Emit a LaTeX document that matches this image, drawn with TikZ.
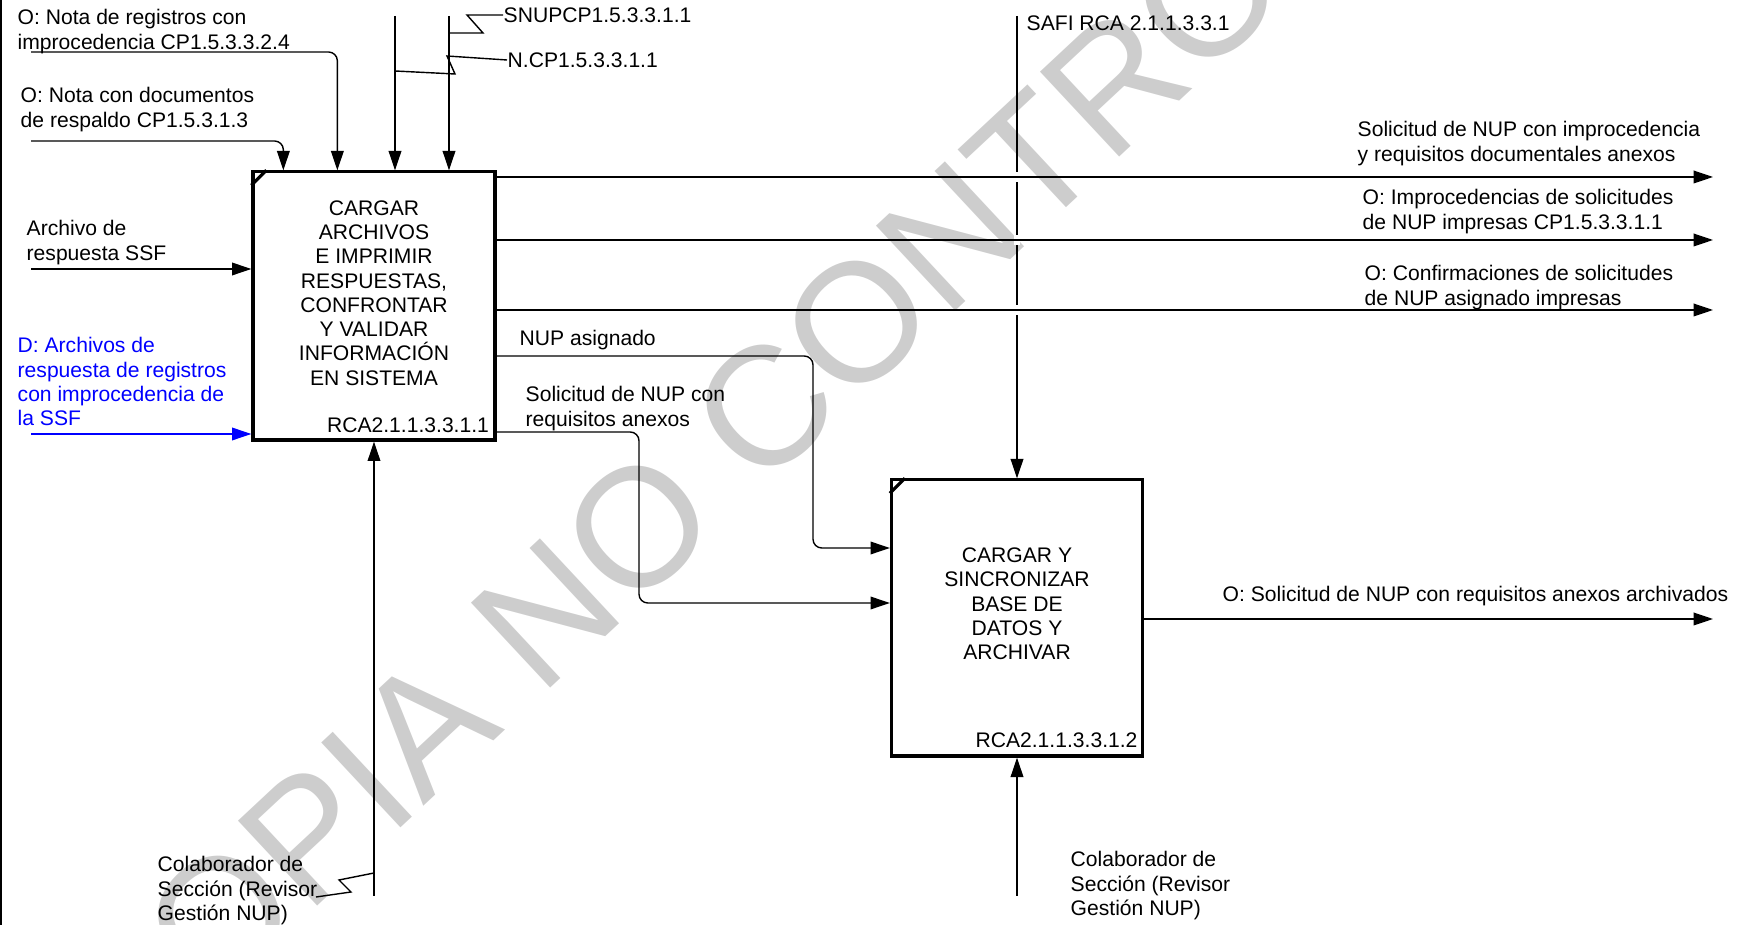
\documentclass[tikz,border=0pt]{standalone}
\usepackage{fontspec}
\setmainfont{Liberation Sans}
\usepackage{xcolor}
\usepackage{tikz}
\usetikzlibrary{arrows.meta, positioning, calc}
\definecolor{AzulDato}  {RGB}{0,  0,  255}
\definecolor{GrisMarca} {RGB}{205,205,205}

\begin{document}
\begin{tikzpicture}[x=0.01cm, y=-0.01cm, font=\fontsize{6}{6.9}\selectfont,
    flecha/.style={draw, line width=0.4pt, -{Triangle[length=5.5pt,width=3.6pt]}},
    linea/.style={draw, line width=0.4pt},
    caja/.style={draw, line width=0.9pt, rectangle, inner sep=0pt},
    etiq/.style={anchor=north west, align=left, inner sep=0pt},
    texcaja/.style={align=center, inner sep=0pt}]
      \useasboundingbox (0,0) rectangle (1739,925);
      \clip (0,0) rectangle (1739,925);
      % marca de agua
      \node[GrisMarca, rotate=43, font=\fontsize{48}{50}\selectfont] (marca) at (830,348) {COPIA NO CONTROLADA};
      \draw[line width=0.6pt] (1,0) -- (1,925);

      % cajas
      \node[caja, minimum width=2.42cm, minimum height=2.68cm] (c1) at (374,306) {};
      \node[caja, minimum width=2.51cm, minimum height=2.76cm] (c2) at (1017,618) {};
      \foreach \c in {c1,c2}{
        \draw[line width=0.9pt] ($(\c.north west)+(0,15)$) -- ($(\c.north west)+(15,0)$);
      }
      \node[texcaja] (t1) at ($(c1.center)+(0,-13)$)
        {CARGAR\\ARCHIVOS\\E IMPRIMIR\\RESPUESTAS,\\CONFRONTAR\\Y VALIDAR\\INFORMACIÓN\\EN SISTEMA};
      \node[anchor=south east, inner sep=0pt] (n1) at ($(c1.south east)+(-7,-8)$) {RCA2.1.1.3.3.1.1};
      \node[texcaja] (t2) at ($(c2.center)+(0,-14)$)
        {CARGAR Y\\SINCRONIZAR\\BASE DE\\DATOS Y\\ARCHIVAR};
      \node[anchor=south east, inner sep=0pt] (n2) at ($(c2.south east)+(-6,-9)$) {RCA2.1.1.3.3.1.2};

      % extremos libres
      \coordinate (e1) at (31,141);
      \coordinate (e2) at (31,52);
      \coordinate (e3) at (395,16);
      \coordinate (e4) at (449,16);
      \coordinate (e5) at (31,269);
      \coordinate (e6) at (31,434);
      \coordinate (e7) at (1017,16);
      \coordinate (e8) at (374,896);
      \coordinate (e9) at (1017,896);
      \coordinate (s1) at (1713,177);
      \coordinate (s2) at (1713,240);
      \coordinate (s3) at (1713,310);
      \coordinate (s4) at (1713,619);
      \coordinate (q1) at (813,450);
      \coordinate (q2) at (639,520);

      % entradas y controles de la caja 1
      \draw[flecha, rounded corners=2.5pt] (e1) -| ($(c1.north west)+(32,0)$);
      \draw[flecha, rounded corners=2.5pt] (e2) -| ($(c1.north west)+(86,0)$);
      \draw[flecha] (e3) -- (e3 |- c1.north);
      \draw[flecha] (e4) -- (e4 |- c1.north);
      \draw[flecha] (e5) -- (e5 -| c1.west);
      \draw[flecha, AzulDato] (e6) -- (e6 -| c1.west);
      \draw[flecha] (e8) -- (c1.south);

      % caja 2
      \draw[flecha] (e7) -- (c2.north);
      \draw[flecha] (e9) -- (c2.south);
      \foreach \s in {s1,s2,s3}{
        \fill[white] ($(e7 |- \s)+(-3,-5)$) rectangle ($(e7 |- \s)+(3,5)$);
      }

      % salidas
      \foreach \s in {s1,s2,s3}{
        \draw[flecha] (\s -| c1.east) -- (\s);
      }
      \draw[flecha] (s4 -| c2.east) -- (s4);
      \draw[flecha, rounded corners=2.5pt] ($(c1.east)+(0,50)$) -| (q1) |- ($(c2.west)+(0,-70)$);
      \draw[flecha, rounded corners=2.5pt] ($(c1.east)+(0,126)$) -| (q2) |- ($(c2.west)+(0,-15)$);

      % etiquetas
      \node[etiq] (l1) at (17,9) {O: Nota de registros con\\improcedencia CP1.5.3.3.2.4};
      \node[etiq] (l2) at (20,87) {O: Nota con documentos\\de respaldo CP1.5.3.1.3};
      \node[etiq] (l3) at (26,220) {Archivo de\\respuesta SSF};
      \node[etiq, AzulDato] (l4) at (17,337) {D: Archivos de\\respuesta de registros\\con improcedencia de\\la SSF};
      \node[anchor=west, inner sep=0pt] (l5) at (503,15) {SNUPCP1.5.3.3.1.1};
      \node[anchor=west, inner sep=0pt] (l6) at (507,60) {N.CP1.5.3.3.1.1};
      \node[etiq] (l7) at (1026,15) {SAFI RCA 2.1.1.3.3.1};
      \node[etiq] (l8) at (1357,121) {Solicitud de NUP con improcedencia\\y requisitos documentales anexos};
      \node[etiq] (l9) at (1362,189) {O: Improcedencias de solicitudes\\de NUP impresas CP1.5.3.3.1.1};
      \node[etiq] (l10) at (1364,265) {O: Confirmaciones de solicitudes\\de NUP asignado impresas};
      \node[etiq] (l11) at (519,330) {NUP asignado};
      \node[etiq] (l12) at (525,386) {Solicitud de NUP con\\requisitos anexos};
      \node[etiq] (l13) at (1222,586) {O: Solicitud de NUP con requisitos anexos archivados};
      \node[etiq] (l14) at (157,856) {Colaborador de\\Sección (Revisor\\Gestión NUP)};
      \node[etiq] (l15) at (1070,851) {Colaborador de\\Sección (Revisor\\Gestión NUP)};

      % conectores de etiqueta
      \draw[linea] ($(e4)+(0,17)$) -- (483,33) -- (467,15) -- (l5.west);
      \draw[linea] ($(e3)+(0,55)$) -- (455,74) -- (447,56) -- (l6.west);
      \draw[linea] ($(e8)+(0,-23)$) -- (339,880) -- (351,892) -- (316,897);
    \end{tikzpicture}
\end{document}
